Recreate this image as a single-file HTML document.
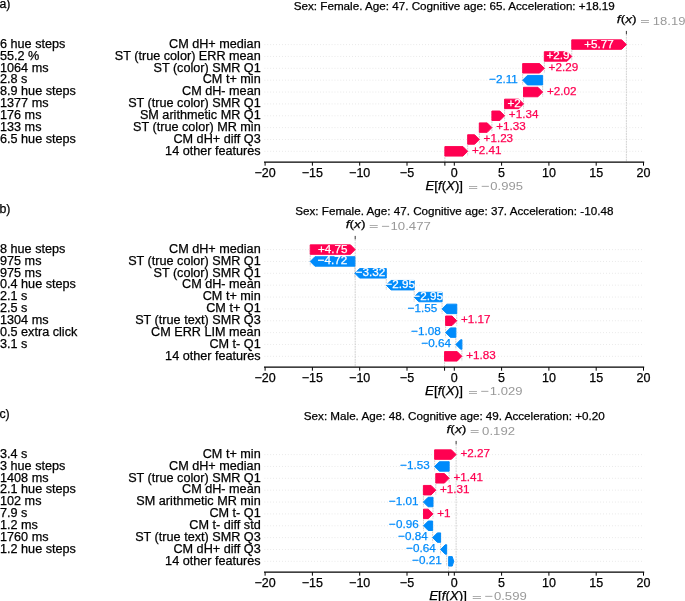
<!DOCTYPE html>
<html><head><meta charset="utf-8"><style>
html,body{margin:0;padding:0;background:#fff;}
body{width:685px;height:601px;overflow:hidden;}
svg{display:block;font-family:"Liberation Sans", sans-serif;will-change:transform;}
text{stroke-width:0.25px;}
</style></head><body>
<svg width="685" height="601" viewBox="0 0 685 601">
<rect width="685" height="601" fill="#fff"/>
<g transform="translate(0,0)">
<text x="-0.6" y="8.2" font-size="12.3" stroke="#000">a)</text>
<text x="454.3" y="9.7" font-size="11.66" text-anchor="middle" stroke="#000">Sex: Female. Age: 47. Cognitive age: 65. Acceleration: +18.19</text>
<line x1="264.55" y1="44.60" x2="644.2" y2="44.60" stroke="#cccccc" stroke-width="0.6" stroke-dasharray="0.7 2.22"/>
<line x1="264.55" y1="56.46" x2="644.2" y2="56.46" stroke="#cccccc" stroke-width="0.6" stroke-dasharray="0.7 2.22"/>
<line x1="264.55" y1="68.32" x2="644.2" y2="68.32" stroke="#cccccc" stroke-width="0.6" stroke-dasharray="0.7 2.22"/>
<line x1="264.55" y1="80.18" x2="644.2" y2="80.18" stroke="#cccccc" stroke-width="0.6" stroke-dasharray="0.7 2.22"/>
<line x1="264.55" y1="92.04" x2="644.2" y2="92.04" stroke="#cccccc" stroke-width="0.6" stroke-dasharray="0.7 2.22"/>
<line x1="264.55" y1="103.90" x2="644.2" y2="103.90" stroke="#cccccc" stroke-width="0.6" stroke-dasharray="0.7 2.22"/>
<line x1="264.55" y1="115.76" x2="644.2" y2="115.76" stroke="#cccccc" stroke-width="0.6" stroke-dasharray="0.7 2.22"/>
<line x1="264.55" y1="127.62" x2="644.2" y2="127.62" stroke="#cccccc" stroke-width="0.6" stroke-dasharray="0.7 2.22"/>
<line x1="264.55" y1="139.48" x2="644.2" y2="139.48" stroke="#cccccc" stroke-width="0.6" stroke-dasharray="0.7 2.22"/>
<line x1="264.55" y1="151.34" x2="644.2" y2="151.34" stroke="#cccccc" stroke-width="0.6" stroke-dasharray="0.7 2.22"/>
<line x1="626.38" y1="34.3" x2="626.38" y2="162.2" stroke="#bbbbbb" stroke-width="0.7" stroke-dasharray="1.8 0.8"/>
<line x1="444.89" y1="149.40" x2="444.89" y2="162.2" stroke="#bbbbbb" stroke-width="0.7" stroke-dasharray="1.8 0.8"/>
<line x1="571.79" y1="39.86" x2="571.79" y2="61.20" stroke="#bbbbbb" stroke-width="0.7" stroke-dasharray="1.8 0.8"/>
<line x1="544.35" y1="51.72" x2="544.35" y2="73.06" stroke="#bbbbbb" stroke-width="0.7" stroke-dasharray="1.8 0.8"/>
<line x1="522.68" y1="63.58" x2="522.68" y2="84.92" stroke="#bbbbbb" stroke-width="0.7" stroke-dasharray="1.8 0.8"/>
<line x1="542.64" y1="75.44" x2="542.64" y2="96.78" stroke="#bbbbbb" stroke-width="0.7" stroke-dasharray="1.8 0.8"/>
<line x1="523.52" y1="87.30" x2="523.52" y2="108.64" stroke="#bbbbbb" stroke-width="0.7" stroke-dasharray="1.8 0.8"/>
<line x1="504.60" y1="99.16" x2="504.60" y2="120.50" stroke="#bbbbbb" stroke-width="0.7" stroke-dasharray="1.8 0.8"/>
<line x1="491.92" y1="111.02" x2="491.92" y2="132.36" stroke="#bbbbbb" stroke-width="0.7" stroke-dasharray="1.8 0.8"/>
<line x1="479.33" y1="122.88" x2="479.33" y2="144.22" stroke="#bbbbbb" stroke-width="0.7" stroke-dasharray="1.8 0.8"/>
<line x1="467.69" y1="134.74" x2="467.69" y2="156.08" stroke="#bbbbbb" stroke-width="0.7" stroke-dasharray="1.8 0.8"/>
<polygon points="571.79,39.86 621.68,39.86 626.38,44.60 621.68,49.34 571.79,49.34" fill="#ff0051" stroke="#ff0051" stroke-width="0.973" stroke-linejoin="miter"/>
<text x="599.08" y="47.60" font-size="11.68" fill="#fff" text-anchor="middle" stroke="#fff">+5.77</text>
<polygon points="544.35,51.72 567.09,51.72 571.79,56.46 567.09,61.20 544.35,61.20" fill="#ff0051" stroke="#ff0051" stroke-width="0.973" stroke-linejoin="miter"/>
<text x="558.07" y="59.46" font-size="11.68" fill="#fff" text-anchor="middle" stroke="#fff">+2.9</text>
<polygon points="522.68,63.58 539.65,63.58 544.35,68.32 539.65,73.06 522.68,73.06" fill="#ff0051" stroke="#ff0051" stroke-width="0.973" stroke-linejoin="miter"/>
<text x="548.61" y="71.02" font-size="11.68" fill="#ff0051" stroke="#ff0051">+2.29</text>
<polygon points="542.64,75.44 527.38,75.44 522.68,80.18 527.38,84.92 542.64,84.92" fill="#008bfb" stroke="#008bfb" stroke-width="0.973" stroke-linejoin="miter"/>
<text x="517.82" y="82.88" font-size="11.68" fill="#008bfb" text-anchor="end" stroke="#008bfb">−2.11</text>
<polygon points="523.52,87.30 537.94,87.30 542.64,92.04 537.94,96.78 523.52,96.78" fill="#ff0051" stroke="#ff0051" stroke-width="0.973" stroke-linejoin="miter"/>
<text x="546.90" y="94.74" font-size="11.68" fill="#ff0051" stroke="#ff0051">+2.02</text>
<polygon points="504.60,99.16 518.82,99.16 523.52,103.90 518.82,108.64 504.60,108.64" fill="#ff0051" stroke="#ff0051" stroke-width="0.973" stroke-linejoin="miter"/>
<text x="514.06" y="106.90" font-size="11.68" fill="#fff" text-anchor="middle" stroke="#fff">+2</text>
<polygon points="491.92,111.02 499.90,111.02 504.60,115.76 499.90,120.50 491.92,120.50" fill="#ff0051" stroke="#ff0051" stroke-width="0.973" stroke-linejoin="miter"/>
<text x="508.86" y="118.46" font-size="11.68" fill="#ff0051" stroke="#ff0051">+1.34</text>
<polygon points="479.33,122.88 487.22,122.88 491.92,127.62 487.22,132.36 479.33,132.36" fill="#ff0051" stroke="#ff0051" stroke-width="0.973" stroke-linejoin="miter"/>
<text x="496.18" y="130.32" font-size="11.68" fill="#ff0051" stroke="#ff0051">+1.33</text>
<polygon points="467.69,134.74 474.63,134.74 479.33,139.48 474.63,144.22 467.69,144.22" fill="#ff0051" stroke="#ff0051" stroke-width="0.973" stroke-linejoin="miter"/>
<text x="483.59" y="142.18" font-size="11.68" fill="#ff0051" stroke="#ff0051">+1.23</text>
<polygon points="444.89,146.60 462.99,146.60 467.69,151.34 462.99,156.08 444.89,156.08" fill="#ff0051" stroke="#ff0051" stroke-width="0.973" stroke-linejoin="miter"/>
<text x="471.95" y="154.04" font-size="11.68" fill="#ff0051" stroke="#ff0051">+2.41</text>
<text x="0" y="47.80" font-size="12.65" stroke="#000">6 hue steps</text>
<text x="260.7" y="47.80" font-size="12.65" text-anchor="end" stroke="#000">CM dH+ median</text>
<text x="0" y="59.66" font-size="12.65" stroke="#000">55.2 %</text>
<text x="260.7" y="59.66" font-size="12.65" text-anchor="end" stroke="#000">ST (true color) ERR mean</text>
<text x="0" y="71.52" font-size="12.65" stroke="#000">1064 ms</text>
<text x="260.7" y="71.52" font-size="12.65" text-anchor="end" stroke="#000">ST (color) SMR Q1</text>
<text x="0" y="83.38" font-size="12.65" stroke="#000">2.8 s</text>
<text x="260.7" y="83.38" font-size="12.65" text-anchor="end" stroke="#000">CM t+ min</text>
<text x="0" y="95.24" font-size="12.65" stroke="#000">8.9 hue steps</text>
<text x="260.7" y="95.24" font-size="12.65" text-anchor="end" stroke="#000">CM dH- mean</text>
<text x="0" y="107.10" font-size="12.65" stroke="#000">1377 ms</text>
<text x="260.7" y="107.10" font-size="12.65" text-anchor="end" stroke="#000">ST (true color) SMR Q1</text>
<text x="0" y="118.96" font-size="12.65" stroke="#000">176 ms</text>
<text x="260.7" y="118.96" font-size="12.65" text-anchor="end" stroke="#000">SM arithmetic MR Q1</text>
<text x="0" y="130.82" font-size="12.65" stroke="#000">133 ms</text>
<text x="260.7" y="130.82" font-size="12.65" text-anchor="end" stroke="#000">ST (true color) MR min</text>
<text x="0" y="142.68" font-size="12.65" stroke="#000">6.5 hue steps</text>
<text x="260.7" y="142.68" font-size="12.65" text-anchor="end" stroke="#000">CM dH+ diff Q3</text>
<text x="260.7" y="154.54" font-size="12.65" text-anchor="end" stroke="#000">14 other features</text>
<line x1="264.0" y1="162.2" x2="644.2" y2="162.2" stroke="#000" stroke-width="1.2"/>
<line x1="265.10" y1="162.2" x2="265.10" y2="165.7" stroke="#000" stroke-width="1.0"/>
<text x="265.10" y="177.1" font-size="12.5" text-anchor="middle" stroke="#000">−20</text>
<line x1="312.40" y1="162.2" x2="312.40" y2="165.7" stroke="#000" stroke-width="1.0"/>
<text x="312.40" y="177.1" font-size="12.5" text-anchor="middle" stroke="#000">−15</text>
<line x1="359.70" y1="162.2" x2="359.70" y2="165.7" stroke="#000" stroke-width="1.0"/>
<text x="359.70" y="177.1" font-size="12.5" text-anchor="middle" stroke="#000">−10</text>
<line x1="407.00" y1="162.2" x2="407.00" y2="165.7" stroke="#000" stroke-width="1.0"/>
<text x="407.00" y="177.1" font-size="12.5" text-anchor="middle" stroke="#000">−5</text>
<line x1="454.30" y1="162.2" x2="454.30" y2="165.7" stroke="#000" stroke-width="1.0"/>
<text x="454.30" y="177.1" font-size="12.5" text-anchor="middle" stroke="#000">0</text>
<line x1="501.60" y1="162.2" x2="501.60" y2="165.7" stroke="#000" stroke-width="1.0"/>
<text x="501.60" y="177.1" font-size="12.5" text-anchor="middle" stroke="#000">5</text>
<line x1="548.90" y1="162.2" x2="548.90" y2="165.7" stroke="#000" stroke-width="1.0"/>
<text x="548.90" y="177.1" font-size="12.5" text-anchor="middle" stroke="#000">10</text>
<line x1="596.20" y1="162.2" x2="596.20" y2="165.7" stroke="#000" stroke-width="1.0"/>
<text x="596.20" y="177.1" font-size="12.5" text-anchor="middle" stroke="#000">15</text>
<line x1="643.50" y1="162.2" x2="643.50" y2="165.7" stroke="#000" stroke-width="1.0"/>
<text x="643.50" y="177.1" font-size="12.5" text-anchor="middle" stroke="#000">20</text>
<line x1="444.89" y1="162.2" x2="444.89" y2="165.7" stroke="#000" stroke-width="1.0"/>
<line x1="626.38" y1="30.9" x2="626.38" y2="34.3" stroke="#000" stroke-width="0.8"/>
<text stroke="#000" stroke-width="0.1" x="425.47" y="189.70000000000002" font-size="11.9" fill="#000" textLength="37.54" lengthAdjust="spacingAndGlyphs"><tspan font-style="italic">E</tspan>[<tspan font-style="italic">f</tspan>(<tspan font-style="italic">X</tspan>)]</text>
<text stroke="#999999" stroke-width="0.3" x="468.44" y="189.7" font-size="9.7" fill="#999999" textLength="9.29" lengthAdjust="spacingAndGlyphs">=</text>
<text x="481.29" y="190.1" font-size="11.8" fill="#999999" textLength="8.63" lengthAdjust="spacingAndGlyphs">−</text>
<text x="490.33" y="190.1" font-size="11.8" fill="#999999" textLength="32.55" lengthAdjust="spacingAndGlyphs">0.995</text>
<text stroke="#000" stroke-width="0.1" x="616.87" y="22.7" font-size="11.8" fill="#000" textLength="19.83" lengthAdjust="spacingAndGlyphs"><tspan font-style="italic">f</tspan>(<tspan font-style="italic">x</tspan>)</text>
<text stroke="#999999" stroke-width="0.3" x="640.58" y="23.9" font-size="9.7" fill="#999999" textLength="8.88" lengthAdjust="spacingAndGlyphs">=</text>
<text x="652.87" y="24.5" font-size="11.8" fill="#999999" textLength="32.59" lengthAdjust="spacingAndGlyphs">18.19</text>
</g>
<g transform="translate(0,205)">
<text x="-0.6" y="8.2" font-size="12.3" stroke="#000">b)</text>
<text x="454.3" y="9.7" font-size="11.66" text-anchor="middle" stroke="#000">Sex: Female. Age: 47. Cognitive age: 37. Acceleration: -10.48</text>
<line x1="264.55" y1="44.60" x2="644.2" y2="44.60" stroke="#cccccc" stroke-width="0.6" stroke-dasharray="0.7 2.22"/>
<line x1="264.55" y1="56.46" x2="644.2" y2="56.46" stroke="#cccccc" stroke-width="0.6" stroke-dasharray="0.7 2.22"/>
<line x1="264.55" y1="68.32" x2="644.2" y2="68.32" stroke="#cccccc" stroke-width="0.6" stroke-dasharray="0.7 2.22"/>
<line x1="264.55" y1="80.18" x2="644.2" y2="80.18" stroke="#cccccc" stroke-width="0.6" stroke-dasharray="0.7 2.22"/>
<line x1="264.55" y1="92.04" x2="644.2" y2="92.04" stroke="#cccccc" stroke-width="0.6" stroke-dasharray="0.7 2.22"/>
<line x1="264.55" y1="103.90" x2="644.2" y2="103.90" stroke="#cccccc" stroke-width="0.6" stroke-dasharray="0.7 2.22"/>
<line x1="264.55" y1="115.76" x2="644.2" y2="115.76" stroke="#cccccc" stroke-width="0.6" stroke-dasharray="0.7 2.22"/>
<line x1="264.55" y1="127.62" x2="644.2" y2="127.62" stroke="#cccccc" stroke-width="0.6" stroke-dasharray="0.7 2.22"/>
<line x1="264.55" y1="139.48" x2="644.2" y2="139.48" stroke="#cccccc" stroke-width="0.6" stroke-dasharray="0.7 2.22"/>
<line x1="264.55" y1="151.34" x2="644.2" y2="151.34" stroke="#cccccc" stroke-width="0.6" stroke-dasharray="0.7 2.22"/>
<line x1="355.19" y1="34.3" x2="355.19" y2="162.2" stroke="#bbbbbb" stroke-width="0.7" stroke-dasharray="1.8 0.8"/>
<line x1="444.57" y1="149.40" x2="444.57" y2="162.2" stroke="#bbbbbb" stroke-width="0.7" stroke-dasharray="1.8 0.8"/>
<line x1="310.24" y1="39.86" x2="310.24" y2="61.20" stroke="#bbbbbb" stroke-width="0.7" stroke-dasharray="1.8 0.8"/>
<line x1="354.88" y1="51.72" x2="354.88" y2="73.06" stroke="#bbbbbb" stroke-width="0.7" stroke-dasharray="1.8 0.8"/>
<line x1="386.28" y1="63.58" x2="386.28" y2="84.92" stroke="#bbbbbb" stroke-width="0.7" stroke-dasharray="1.8 0.8"/>
<line x1="414.17" y1="75.44" x2="414.17" y2="96.78" stroke="#bbbbbb" stroke-width="0.7" stroke-dasharray="1.8 0.8"/>
<line x1="442.07" y1="87.30" x2="442.07" y2="108.64" stroke="#bbbbbb" stroke-width="0.7" stroke-dasharray="1.8 0.8"/>
<line x1="456.72" y1="99.16" x2="456.72" y2="120.50" stroke="#bbbbbb" stroke-width="0.7" stroke-dasharray="1.8 0.8"/>
<line x1="445.64" y1="111.02" x2="445.64" y2="132.36" stroke="#bbbbbb" stroke-width="0.7" stroke-dasharray="1.8 0.8"/>
<line x1="455.85" y1="122.88" x2="455.85" y2="144.22" stroke="#bbbbbb" stroke-width="0.7" stroke-dasharray="1.8 0.8"/>
<line x1="461.89" y1="134.74" x2="461.89" y2="156.08" stroke="#bbbbbb" stroke-width="0.7" stroke-dasharray="1.8 0.8"/>
<polygon points="310.24,39.86 350.49,39.86 355.19,44.60 350.49,49.34 310.24,49.34" fill="#ff0051" stroke="#ff0051" stroke-width="0.973" stroke-linejoin="miter"/>
<text x="332.71" y="47.60" font-size="11.68" fill="#fff" text-anchor="middle" stroke="#fff">+4.75</text>
<polygon points="354.88,51.72 314.94,51.72 310.24,56.46 314.94,61.20 354.88,61.20" fill="#008bfb" stroke="#008bfb" stroke-width="0.973" stroke-linejoin="miter"/>
<text x="332.56" y="59.46" font-size="11.68" fill="#fff" text-anchor="middle" stroke="#fff">−4.72</text>
<polygon points="386.28,63.58 359.58,63.58 354.88,68.32 359.58,73.06 386.28,73.06" fill="#008bfb" stroke="#008bfb" stroke-width="0.973" stroke-linejoin="miter"/>
<text x="370.58" y="71.32" font-size="11.68" fill="#fff" text-anchor="middle" stroke="#fff">−3.32</text>
<polygon points="414.17,75.44 390.98,75.44 386.28,80.18 390.98,84.92 414.17,84.92" fill="#008bfb" stroke="#008bfb" stroke-width="0.973" stroke-linejoin="miter"/>
<text x="400.22" y="83.18" font-size="11.68" fill="#fff" text-anchor="middle" stroke="#fff">−2.95</text>
<polygon points="442.07,87.30 418.87,87.30 414.17,92.04 418.87,96.78 442.07,96.78" fill="#008bfb" stroke="#008bfb" stroke-width="0.973" stroke-linejoin="miter"/>
<text x="428.12" y="95.04" font-size="11.68" fill="#fff" text-anchor="middle" stroke="#fff">−2.95</text>
<polygon points="456.72,99.16 446.77,99.16 442.07,103.90 446.77,108.64 456.72,108.64" fill="#008bfb" stroke="#008bfb" stroke-width="0.973" stroke-linejoin="miter"/>
<text x="437.21" y="106.60" font-size="11.68" fill="#008bfb" text-anchor="end" stroke="#008bfb">−1.55</text>
<polygon points="445.64,111.02 452.02,111.02 456.72,115.76 452.02,120.50 445.64,120.50" fill="#ff0051" stroke="#ff0051" stroke-width="0.973" stroke-linejoin="miter"/>
<text x="460.98" y="118.46" font-size="11.68" fill="#ff0051" stroke="#ff0051">+1.17</text>
<polygon points="455.85,122.88 450.34,122.88 445.64,127.62 450.34,132.36 455.85,132.36" fill="#008bfb" stroke="#008bfb" stroke-width="0.973" stroke-linejoin="miter"/>
<text x="440.78" y="130.32" font-size="11.68" fill="#008bfb" text-anchor="end" stroke="#008bfb">−1.08</text>
<polygon points="461.89,134.74 460.55,134.74 455.85,139.48 460.55,144.22 461.89,144.22" fill="#008bfb" stroke="#008bfb" stroke-width="0.973" stroke-linejoin="miter"/>
<text x="450.99" y="142.18" font-size="11.68" fill="#008bfb" text-anchor="end" stroke="#008bfb">−0.64</text>
<polygon points="444.57,146.60 457.19,146.60 461.89,151.34 457.19,156.08 444.57,156.08" fill="#ff0051" stroke="#ff0051" stroke-width="0.973" stroke-linejoin="miter"/>
<text x="466.15" y="154.04" font-size="11.68" fill="#ff0051" stroke="#ff0051">+1.83</text>
<text x="0" y="47.80" font-size="12.65" stroke="#000">8 hue steps</text>
<text x="260.7" y="47.80" font-size="12.65" text-anchor="end" stroke="#000">CM dH+ median</text>
<text x="0" y="59.66" font-size="12.65" stroke="#000">975 ms</text>
<text x="260.7" y="59.66" font-size="12.65" text-anchor="end" stroke="#000">ST (true color) SMR Q1</text>
<text x="0" y="71.52" font-size="12.65" stroke="#000">975 ms</text>
<text x="260.7" y="71.52" font-size="12.65" text-anchor="end" stroke="#000">ST (color) SMR Q1</text>
<text x="0" y="83.38" font-size="12.65" stroke="#000">0.4 hue steps</text>
<text x="260.7" y="83.38" font-size="12.65" text-anchor="end" stroke="#000">CM dH- mean</text>
<text x="0" y="95.24" font-size="12.65" stroke="#000">2.1 s</text>
<text x="260.7" y="95.24" font-size="12.65" text-anchor="end" stroke="#000">CM t+ min</text>
<text x="0" y="107.10" font-size="12.65" stroke="#000">2.5 s</text>
<text x="260.7" y="107.10" font-size="12.65" text-anchor="end" stroke="#000">CM t+ Q1</text>
<text x="0" y="118.96" font-size="12.65" stroke="#000">1304 ms</text>
<text x="260.7" y="118.96" font-size="12.65" text-anchor="end" stroke="#000">ST (true text) SMR Q3</text>
<text x="0" y="130.82" font-size="12.65" stroke="#000">0.5 extra click</text>
<text x="260.7" y="130.82" font-size="12.65" text-anchor="end" stroke="#000">CM ERR LIM mean</text>
<text x="0" y="142.68" font-size="12.65" stroke="#000">3.1 s</text>
<text x="260.7" y="142.68" font-size="12.65" text-anchor="end" stroke="#000">CM t- Q1</text>
<text x="260.7" y="154.54" font-size="12.65" text-anchor="end" stroke="#000">14 other features</text>
<line x1="264.0" y1="162.2" x2="644.2" y2="162.2" stroke="#000" stroke-width="1.2"/>
<line x1="265.10" y1="162.2" x2="265.10" y2="165.7" stroke="#000" stroke-width="1.0"/>
<text x="265.10" y="177.1" font-size="12.5" text-anchor="middle" stroke="#000">−20</text>
<line x1="312.40" y1="162.2" x2="312.40" y2="165.7" stroke="#000" stroke-width="1.0"/>
<text x="312.40" y="177.1" font-size="12.5" text-anchor="middle" stroke="#000">−15</text>
<line x1="359.70" y1="162.2" x2="359.70" y2="165.7" stroke="#000" stroke-width="1.0"/>
<text x="359.70" y="177.1" font-size="12.5" text-anchor="middle" stroke="#000">−10</text>
<line x1="407.00" y1="162.2" x2="407.00" y2="165.7" stroke="#000" stroke-width="1.0"/>
<text x="407.00" y="177.1" font-size="12.5" text-anchor="middle" stroke="#000">−5</text>
<line x1="454.30" y1="162.2" x2="454.30" y2="165.7" stroke="#000" stroke-width="1.0"/>
<text x="454.30" y="177.1" font-size="12.5" text-anchor="middle" stroke="#000">0</text>
<line x1="501.60" y1="162.2" x2="501.60" y2="165.7" stroke="#000" stroke-width="1.0"/>
<text x="501.60" y="177.1" font-size="12.5" text-anchor="middle" stroke="#000">5</text>
<line x1="548.90" y1="162.2" x2="548.90" y2="165.7" stroke="#000" stroke-width="1.0"/>
<text x="548.90" y="177.1" font-size="12.5" text-anchor="middle" stroke="#000">10</text>
<line x1="596.20" y1="162.2" x2="596.20" y2="165.7" stroke="#000" stroke-width="1.0"/>
<text x="596.20" y="177.1" font-size="12.5" text-anchor="middle" stroke="#000">15</text>
<line x1="643.50" y1="162.2" x2="643.50" y2="165.7" stroke="#000" stroke-width="1.0"/>
<text x="643.50" y="177.1" font-size="12.5" text-anchor="middle" stroke="#000">20</text>
<line x1="444.57" y1="162.2" x2="444.57" y2="165.7" stroke="#000" stroke-width="1.0"/>
<line x1="355.19" y1="30.9" x2="355.19" y2="34.3" stroke="#000" stroke-width="0.8"/>
<text stroke="#000" stroke-width="0.1" x="425.00" y="189.70000000000002" font-size="11.9" fill="#000" textLength="37.91" lengthAdjust="spacingAndGlyphs"><tspan font-style="italic">E</tspan>[<tspan font-style="italic">f</tspan>(<tspan font-style="italic">X</tspan>)]</text>
<text stroke="#999999" stroke-width="0.3" x="468.45" y="189.7" font-size="9.7" fill="#999999" textLength="8.90" lengthAdjust="spacingAndGlyphs">=</text>
<text x="480.81" y="190.1" font-size="11.8" fill="#999999" textLength="8.64" lengthAdjust="spacingAndGlyphs">−</text>
<text x="489.82" y="190.1" font-size="11.8" fill="#999999" textLength="32.65" lengthAdjust="spacingAndGlyphs">1.029</text>
<text stroke="#000" stroke-width="0.1" x="345.75" y="22.7" font-size="11.8" fill="#000" textLength="19.82" lengthAdjust="spacingAndGlyphs"><tspan font-style="italic">f</tspan>(<tspan font-style="italic">x</tspan>)</text>
<text stroke="#999999" stroke-width="0.3" x="369.25" y="23.9" font-size="9.7" fill="#999999" textLength="8.86" lengthAdjust="spacingAndGlyphs">=</text>
<text x="381.49" y="24.5" font-size="11.8" fill="#999999" textLength="8.65" lengthAdjust="spacingAndGlyphs">−</text>
<text x="390.51" y="24.5" font-size="11.8" fill="#999999" textLength="40.35" lengthAdjust="spacingAndGlyphs">10.477</text>
</g>
<g transform="translate(0,410)">
<text x="-0.6" y="8.2" font-size="12.3" stroke="#000">c)</text>
<text x="454.3" y="9.7" font-size="11.66" text-anchor="middle" stroke="#000">Sex: Male. Age: 48. Cognitive age: 49. Acceleration: +0.20</text>
<line x1="264.55" y1="44.60" x2="644.2" y2="44.60" stroke="#cccccc" stroke-width="0.6" stroke-dasharray="0.7 2.22"/>
<line x1="264.55" y1="56.46" x2="644.2" y2="56.46" stroke="#cccccc" stroke-width="0.6" stroke-dasharray="0.7 2.22"/>
<line x1="264.55" y1="68.32" x2="644.2" y2="68.32" stroke="#cccccc" stroke-width="0.6" stroke-dasharray="0.7 2.22"/>
<line x1="264.55" y1="80.18" x2="644.2" y2="80.18" stroke="#cccccc" stroke-width="0.6" stroke-dasharray="0.7 2.22"/>
<line x1="264.55" y1="92.04" x2="644.2" y2="92.04" stroke="#cccccc" stroke-width="0.6" stroke-dasharray="0.7 2.22"/>
<line x1="264.55" y1="103.90" x2="644.2" y2="103.90" stroke="#cccccc" stroke-width="0.6" stroke-dasharray="0.7 2.22"/>
<line x1="264.55" y1="115.76" x2="644.2" y2="115.76" stroke="#cccccc" stroke-width="0.6" stroke-dasharray="0.7 2.22"/>
<line x1="264.55" y1="127.62" x2="644.2" y2="127.62" stroke="#cccccc" stroke-width="0.6" stroke-dasharray="0.7 2.22"/>
<line x1="264.55" y1="139.48" x2="644.2" y2="139.48" stroke="#cccccc" stroke-width="0.6" stroke-dasharray="0.7 2.22"/>
<line x1="264.55" y1="151.34" x2="644.2" y2="151.34" stroke="#cccccc" stroke-width="0.6" stroke-dasharray="0.7 2.22"/>
<line x1="456.12" y1="34.3" x2="456.12" y2="162.2" stroke="#bbbbbb" stroke-width="0.7" stroke-dasharray="1.8 0.8"/>
<line x1="448.63" y1="149.40" x2="448.63" y2="162.2" stroke="#bbbbbb" stroke-width="0.7" stroke-dasharray="1.8 0.8"/>
<line x1="434.65" y1="39.86" x2="434.65" y2="61.20" stroke="#bbbbbb" stroke-width="0.7" stroke-dasharray="1.8 0.8"/>
<line x1="449.13" y1="51.72" x2="449.13" y2="73.06" stroke="#bbbbbb" stroke-width="0.7" stroke-dasharray="1.8 0.8"/>
<line x1="435.80" y1="63.58" x2="435.80" y2="84.92" stroke="#bbbbbb" stroke-width="0.7" stroke-dasharray="1.8 0.8"/>
<line x1="423.42" y1="75.44" x2="423.42" y2="96.78" stroke="#bbbbbb" stroke-width="0.7" stroke-dasharray="1.8 0.8"/>
<line x1="432.98" y1="87.30" x2="432.98" y2="108.64" stroke="#bbbbbb" stroke-width="0.7" stroke-dasharray="1.8 0.8"/>
<line x1="423.53" y1="99.16" x2="423.53" y2="120.50" stroke="#bbbbbb" stroke-width="0.7" stroke-dasharray="1.8 0.8"/>
<line x1="432.62" y1="111.02" x2="432.62" y2="132.36" stroke="#bbbbbb" stroke-width="0.7" stroke-dasharray="1.8 0.8"/>
<line x1="440.58" y1="122.88" x2="440.58" y2="144.22" stroke="#bbbbbb" stroke-width="0.7" stroke-dasharray="1.8 0.8"/>
<line x1="446.64" y1="134.74" x2="446.64" y2="156.08" stroke="#bbbbbb" stroke-width="0.7" stroke-dasharray="1.8 0.8"/>
<polygon points="434.65,39.86 451.42,39.86 456.12,44.60 451.42,49.34 434.65,49.34" fill="#ff0051" stroke="#ff0051" stroke-width="0.973" stroke-linejoin="miter"/>
<text x="460.38" y="47.30" font-size="11.68" fill="#ff0051" stroke="#ff0051">+2.27</text>
<polygon points="449.13,51.72 439.35,51.72 434.65,56.46 439.35,61.20 449.13,61.20" fill="#008bfb" stroke="#008bfb" stroke-width="0.973" stroke-linejoin="miter"/>
<text x="429.79" y="59.16" font-size="11.68" fill="#008bfb" text-anchor="end" stroke="#008bfb">−1.53</text>
<polygon points="435.80,63.58 444.43,63.58 449.13,68.32 444.43,73.06 435.80,73.06" fill="#ff0051" stroke="#ff0051" stroke-width="0.973" stroke-linejoin="miter"/>
<text x="453.39" y="71.02" font-size="11.68" fill="#ff0051" stroke="#ff0051">+1.41</text>
<polygon points="423.42,75.44 431.10,75.44 435.80,80.18 431.10,84.92 423.42,84.92" fill="#ff0051" stroke="#ff0051" stroke-width="0.973" stroke-linejoin="miter"/>
<text x="440.06" y="82.88" font-size="11.68" fill="#ff0051" stroke="#ff0051">+1.31</text>
<polygon points="432.98,87.30 428.12,87.30 423.42,92.04 428.12,96.78 432.98,96.78" fill="#008bfb" stroke="#008bfb" stroke-width="0.973" stroke-linejoin="miter"/>
<text x="418.56" y="94.74" font-size="11.68" fill="#008bfb" text-anchor="end" stroke="#008bfb">−1.01</text>
<polygon points="423.53,99.16 428.28,99.16 432.98,103.90 428.28,108.64 423.53,108.64" fill="#ff0051" stroke="#ff0051" stroke-width="0.973" stroke-linejoin="miter"/>
<text x="437.24" y="106.60" font-size="11.68" fill="#ff0051" stroke="#ff0051">+1</text>
<polygon points="432.62,111.02 428.23,111.02 423.53,115.76 428.23,120.50 432.62,120.50" fill="#008bfb" stroke="#008bfb" stroke-width="0.973" stroke-linejoin="miter"/>
<text x="418.67" y="118.46" font-size="11.68" fill="#008bfb" text-anchor="end" stroke="#008bfb">−0.96</text>
<polygon points="440.58,122.88 437.32,122.88 432.62,127.62 437.32,132.36 440.58,132.36" fill="#008bfb" stroke="#008bfb" stroke-width="0.973" stroke-linejoin="miter"/>
<text x="427.76" y="130.32" font-size="11.68" fill="#008bfb" text-anchor="end" stroke="#008bfb">−0.84</text>
<polygon points="446.64,134.74 445.28,134.74 440.58,139.48 445.28,144.22 446.64,144.22" fill="#008bfb" stroke="#008bfb" stroke-width="0.973" stroke-linejoin="miter"/>
<text x="435.72" y="142.18" font-size="11.68" fill="#008bfb" text-anchor="end" stroke="#008bfb">−0.64</text>
<polygon points="448.63,146.60 452.23,146.60 453.73,151.34 452.23,156.08 448.63,156.08" fill="#008bfb" stroke="#008bfb" stroke-width="0.973" stroke-linejoin="miter"/>
<text x="441.78" y="154.04" font-size="11.68" fill="#008bfb" text-anchor="end" stroke="#008bfb">−0.21</text>
<text x="0" y="47.80" font-size="12.65" stroke="#000">3.4 s</text>
<text x="260.7" y="47.80" font-size="12.65" text-anchor="end" stroke="#000">CM t+ min</text>
<text x="0" y="59.66" font-size="12.65" stroke="#000">3 hue steps</text>
<text x="260.7" y="59.66" font-size="12.65" text-anchor="end" stroke="#000">CM dH+ median</text>
<text x="0" y="71.52" font-size="12.65" stroke="#000">1408 ms</text>
<text x="260.7" y="71.52" font-size="12.65" text-anchor="end" stroke="#000">ST (true color) SMR Q1</text>
<text x="0" y="83.38" font-size="12.65" stroke="#000">2.1 hue steps</text>
<text x="260.7" y="83.38" font-size="12.65" text-anchor="end" stroke="#000">CM dH- mean</text>
<text x="0" y="95.24" font-size="12.65" stroke="#000">102 ms</text>
<text x="260.7" y="95.24" font-size="12.65" text-anchor="end" stroke="#000">SM arithmetic MR min</text>
<text x="0" y="107.10" font-size="12.65" stroke="#000">7.9 s</text>
<text x="260.7" y="107.10" font-size="12.65" text-anchor="end" stroke="#000">CM t- Q1</text>
<text x="0" y="118.96" font-size="12.65" stroke="#000">1.2 ms</text>
<text x="260.7" y="118.96" font-size="12.65" text-anchor="end" stroke="#000">CM t- diff std</text>
<text x="0" y="130.82" font-size="12.65" stroke="#000">1760 ms</text>
<text x="260.7" y="130.82" font-size="12.65" text-anchor="end" stroke="#000">ST (true text) SMR Q3</text>
<text x="0" y="142.68" font-size="12.65" stroke="#000">1.2 hue steps</text>
<text x="260.7" y="142.68" font-size="12.65" text-anchor="end" stroke="#000">CM dH+ diff Q3</text>
<text x="260.7" y="154.54" font-size="12.65" text-anchor="end" stroke="#000">14 other features</text>
<line x1="264.0" y1="162.2" x2="644.2" y2="162.2" stroke="#000" stroke-width="1.2"/>
<line x1="265.10" y1="162.2" x2="265.10" y2="165.7" stroke="#000" stroke-width="1.0"/>
<text x="265.10" y="177.1" font-size="12.5" text-anchor="middle" stroke="#000">−20</text>
<line x1="312.40" y1="162.2" x2="312.40" y2="165.7" stroke="#000" stroke-width="1.0"/>
<text x="312.40" y="177.1" font-size="12.5" text-anchor="middle" stroke="#000">−15</text>
<line x1="359.70" y1="162.2" x2="359.70" y2="165.7" stroke="#000" stroke-width="1.0"/>
<text x="359.70" y="177.1" font-size="12.5" text-anchor="middle" stroke="#000">−10</text>
<line x1="407.00" y1="162.2" x2="407.00" y2="165.7" stroke="#000" stroke-width="1.0"/>
<text x="407.00" y="177.1" font-size="12.5" text-anchor="middle" stroke="#000">−5</text>
<line x1="454.30" y1="162.2" x2="454.30" y2="165.7" stroke="#000" stroke-width="1.0"/>
<text x="454.30" y="177.1" font-size="12.5" text-anchor="middle" stroke="#000">0</text>
<line x1="501.60" y1="162.2" x2="501.60" y2="165.7" stroke="#000" stroke-width="1.0"/>
<text x="501.60" y="177.1" font-size="12.5" text-anchor="middle" stroke="#000">5</text>
<line x1="548.90" y1="162.2" x2="548.90" y2="165.7" stroke="#000" stroke-width="1.0"/>
<text x="548.90" y="177.1" font-size="12.5" text-anchor="middle" stroke="#000">10</text>
<line x1="596.20" y1="162.2" x2="596.20" y2="165.7" stroke="#000" stroke-width="1.0"/>
<text x="596.20" y="177.1" font-size="12.5" text-anchor="middle" stroke="#000">15</text>
<line x1="643.50" y1="162.2" x2="643.50" y2="165.7" stroke="#000" stroke-width="1.0"/>
<text x="643.50" y="177.1" font-size="12.5" text-anchor="middle" stroke="#000">20</text>
<line x1="448.63" y1="162.2" x2="448.63" y2="165.7" stroke="#000" stroke-width="1.0"/>
<line x1="456.12" y1="30.9" x2="456.12" y2="34.3" stroke="#000" stroke-width="0.8"/>
<text stroke="#000" stroke-width="0.1" x="429.15" y="189.70000000000002" font-size="11.9" fill="#000" textLength="37.73" lengthAdjust="spacingAndGlyphs"><tspan font-style="italic">E</tspan>[<tspan font-style="italic">f</tspan>(<tspan font-style="italic">X</tspan>)]</text>
<text stroke="#999999" stroke-width="0.3" x="472.30" y="189.7" font-size="9.7" fill="#999999" textLength="9.21" lengthAdjust="spacingAndGlyphs">=</text>
<text x="484.84" y="190.1" font-size="11.8" fill="#999999" textLength="8.64" lengthAdjust="spacingAndGlyphs">−</text>
<text x="493.91" y="190.1" font-size="11.8" fill="#999999" textLength="32.88" lengthAdjust="spacingAndGlyphs">0.599</text>
<text stroke="#000" stroke-width="0.1" x="446.46" y="22.7" font-size="11.8" fill="#000" textLength="20.02" lengthAdjust="spacingAndGlyphs"><tspan font-style="italic">f</tspan>(<tspan font-style="italic">x</tspan>)</text>
<text stroke="#999999" stroke-width="0.3" x="470.26" y="23.9" font-size="9.7" fill="#999999" textLength="8.73" lengthAdjust="spacingAndGlyphs">=</text>
<text x="482.13" y="24.5" font-size="11.8" fill="#999999" textLength="32.87" lengthAdjust="spacingAndGlyphs">0.192</text>
</g>
</svg>
</body></html>
